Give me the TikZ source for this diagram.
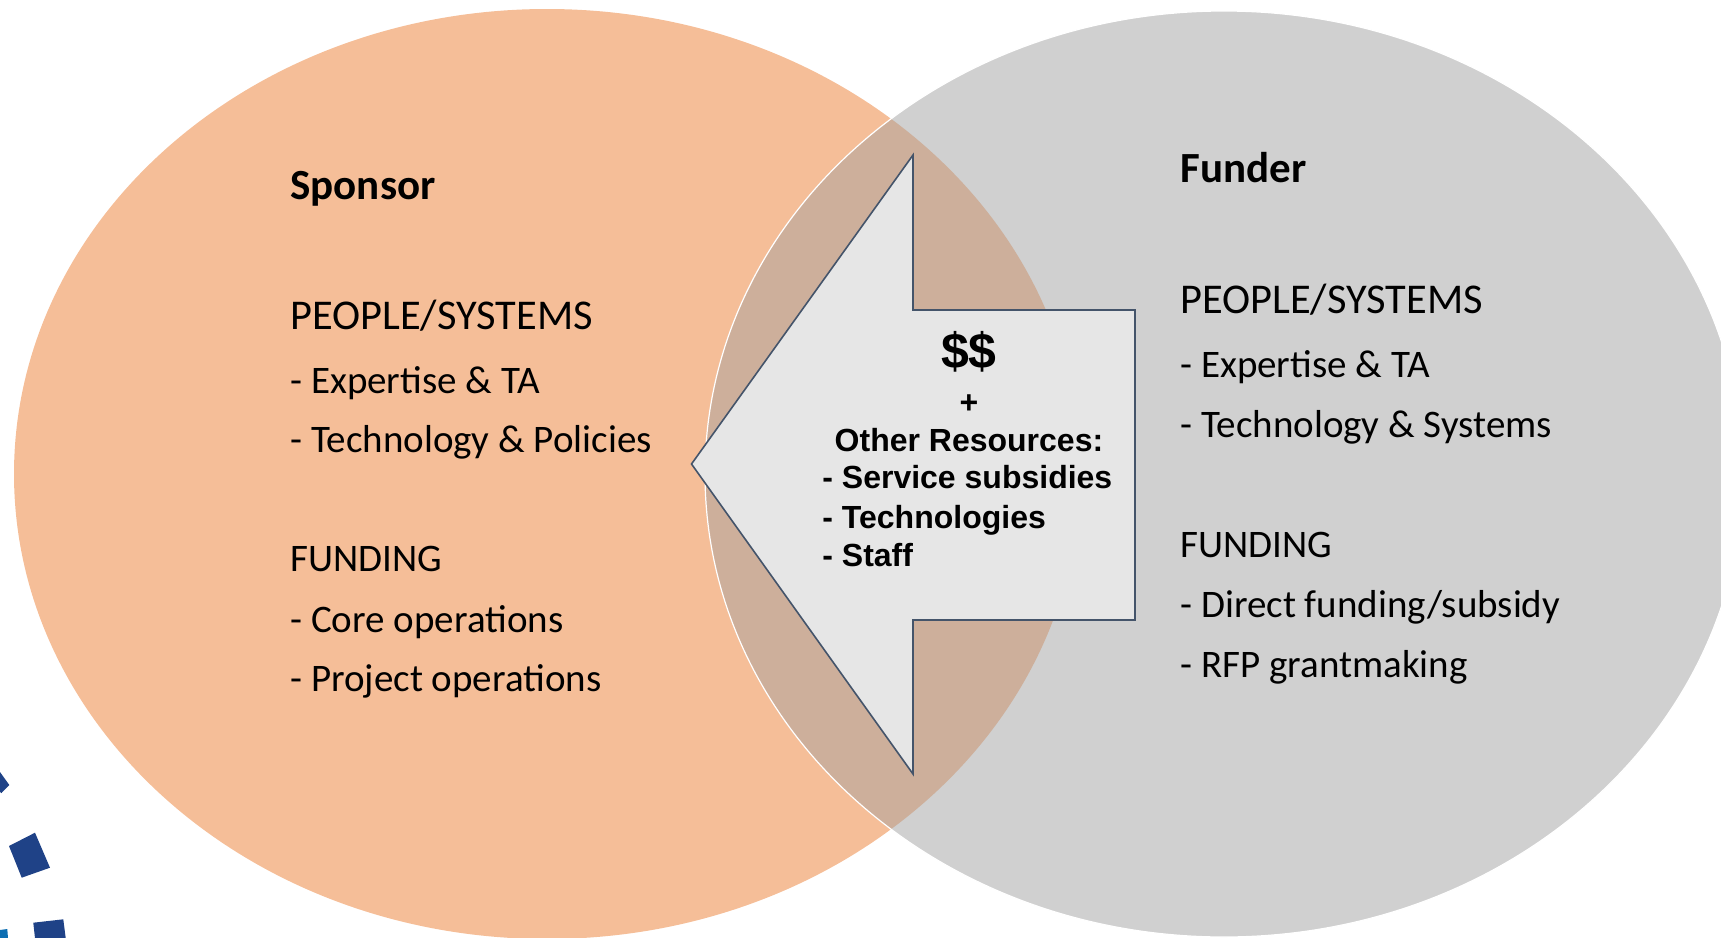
\documentclass[tikz,border=0pt]{standalone}
\usepackage{fontspec}
\setmainfont{Carlito}
\newfontfamily\arialfont{Liberation Sans}
\usepackage{tikz}
\definecolor{sponsororange}{RGB}{245,190,152}
\definecolor{fundergray}{RGB}{208,208,208}
\definecolor{overlapbrown}{RGB}{205,175,155}
\definecolor{arrowgray}{RGB}{230,230,230}
\definecolor{arrowedge}{RGB}{68,84,106}
\definecolor{dotblue}{RGB}{31,66,135}
\definecolor{dotcyan}{RGB}{12,110,178}

\begin{document}
\begin{tikzpicture}[x=0.5pt,y=-0.5pt,
    txt/.style={anchor=base west,inner sep=0pt,font=\fontsize{19.5}{23}\selectfont},
    captxt/.style={txt,font=\fontsize{21.2}{25}\selectfont},
    head/.style={txt,font=\fontsize{21.5}{25}\selectfont\bfseries},
    res/.style={inner sep=0pt,font=\arialfont\bfseries\fontsize{16}{19}\selectfont}]
    \useasboundingbox (0,0) rectangle (1721,938);

    \fill[sponsororange] (547,474) ellipse [x radius=266.5pt,y radius=232.5pt];
    \fill[fundergray] (1224,474) ellipse [x radius=259.5pt,y radius=231.5pt];
    \begin{scope}
        \clip (547,474) ellipse [x radius=266.5pt,y radius=232.5pt];
        \fill[overlapbrown] (1224,474) ellipse [x radius=259.5pt,y radius=231.5pt];
    \end{scope}
    \draw[white,line width=0.6pt] (1224,474) ellipse [x radius=259.5pt,y radius=231.5pt];

    \fill[dotblue] (0,772) -- (9.3,785) -- (1.5,793) -- (0,792) -- cycle;
    \fill[dotblue] (9,846) -- (35,832.7) -- (50,867.7) -- (21.7,877.7) -- cycle;
    \fill[dotcyan] (0,930) -- (7.3,929) -- (8,938) -- (0,938) -- cycle;
    \fill[dotblue] (33.3,922.7) -- (63.3,919.3) -- (65.7,938) -- (35,938) -- cycle;

    \draw[arrowedge,fill=arrowgray,line width=0.8pt] (691.5,464) -- (913,155) -- (913,310) -- (1135,310)
        -- (1135,620) -- (913,620) -- (913,774) -- cycle;

    \node[head] (sponsor) at (290,199) {Sponsor};
    \node[captxt] (spPeople) at (290,329) {PEOPLE/SYSTEMS};
    \node[txt] (spExpertise) at (290,393) {- Expertise \& TA};
    \node[txt] (spTech) at (290,452) {- Technology \& Policies};
    \node[txt] (spFunding) at (290,571) {FUNDING};
    \node[txt] (spCore) at (290,632) {- Core operations};
    \node[txt] (spProject) at (290,691) {- Project operations};

    \node[head] (funder) at (1180,182) {Funder};
    \node[captxt] (fuPeople) at (1180,313) {PEOPLE/SYSTEMS};
    \node[txt] (fuExpertise) at (1180,377) {- Expertise \& TA};
    \node[txt] (fuTech) at (1180,437) {- Technology \& Systems};
    \node[txt] (fuFunding) at (1180,557) {FUNDING};
    \node[txt] (fuDirect) at (1180,617) {- Direct funding/subsidy};
    \node[txt] (fuRfp) at (1180,677) {- RFP grantmaking};

    \node[res,anchor=base,font=\arialfont\bfseries\fontsize{25}{30}\selectfont] (dollars) at (969,368) {\$\$};
    \node[res,anchor=base] (plus) at (969,413) {+};
    \node[res,anchor=base] (other) at (969,451) {Other Resources:};
    \node[res,anchor=base west] (subsidies) at (822,488) {- Service subsidies};
    \node[res,anchor=base west] (techs) at (822,528) {- Technologies};
    \node[res,anchor=base west] (staff) at (822,566) {- Staff};
\end{tikzpicture}
\end{document}
